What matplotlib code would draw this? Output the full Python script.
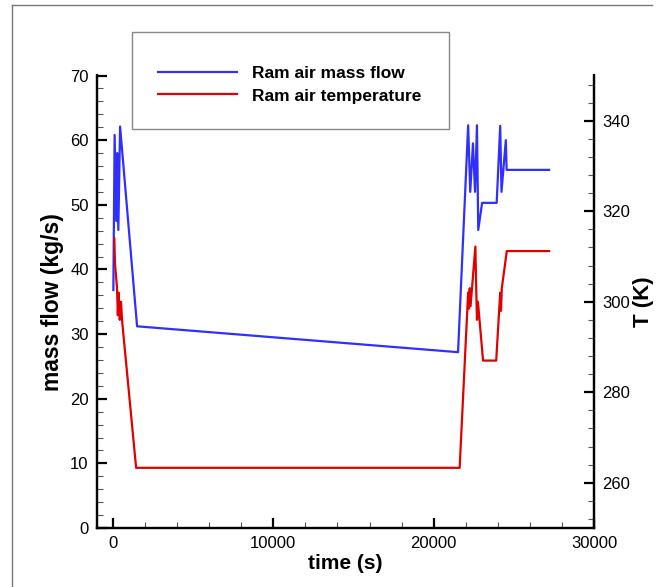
import matplotlib
matplotlib.use('Agg')
import matplotlib.pyplot as plt
from matplotlib.lines import Line2D
from matplotlib.patches import Rectangle
from matplotlib.ticker import MultipleLocator

plt.rcParams['font.family'] = ['Liberation Sans', 'DejaVu Sans']

# Ram air mass flow (kg/s) vs time (s)
flow_time = [20, 100, 200, 260, 330, 440, 1500,
             21520, 22150, 22280, 22450, 22580, 22700, 22780, 23020, 23930,
             24150, 24230, 24500, 24550, 27200]
flow_value = [36.8, 60.8, 47.5, 58.0, 46.1, 62.1, 31.2,
              27.2, 62.3, 52.0, 59.5, 52.0, 62.3, 46.1, 50.3, 50.3,
              62.2, 52.0, 60.0, 55.4, 55.4]

# Ram air temperature (K) vs time (s)
temp_time = [80, 120, 250, 300, 350, 420, 500, 560, 1440,
             21620, 22150, 22200, 22250, 22300, 22600, 22660, 22700, 22760,
             23080, 23900, 24150, 24200, 24250, 24560, 27200]
temp_value = [314.0, 308.5, 303.0, 297.0, 302.0, 296.0, 300.0, 296.0, 263.3,
              263.3, 302.0, 298.5, 303.0, 299.0, 312.2, 302.0, 296.0, 300.0,
              287.0, 287.0, 302.0, 298.0, 303.0, 311.2, 311.2]

blue = '#2f2fff'
red = '#e00000'

fig = plt.figure(figsize=(6.61, 5.87), dpi=100)
ax = fig.add_axes([97 / 661, 59 / 587, 497 / 661, 452.5 / 587])
ax2 = ax.twinx()

ax.plot(flow_time, flow_value, color=blue, lw=1.6, label='Ram air mass flow')
ax2.plot(temp_time, temp_value, color=red, lw=1.6, label='Ram air temperature')

ax.set_xlim(-1000, 30000)
ax.set_ylim(0, 70)
ax2.set_ylim(250, 350)

ax.xaxis.set_major_locator(MultipleLocator(10000))
ax.xaxis.set_minor_locator(MultipleLocator(2000))
ax.yaxis.set_major_locator(MultipleLocator(10))
ax.yaxis.set_minor_locator(MultipleLocator(2))
ax2.yaxis.set_major_locator(MultipleLocator(20))
ax2.yaxis.set_minor_locator(MultipleLocator(4))

for a in (ax, ax2):
    a.spines['top'].set_visible(False)
    for s in ('left', 'right', 'bottom'):
        a.spines[s].set_linewidth(1.6)
    a.tick_params(which='major', direction='in', length=7.5, width=1.6,
                  labelsize=12, pad=6)
    a.tick_params(which='minor', direction='in', length=4.5, width=0.8,
                  color='#555555')
ax.tick_params(axis='y', which='both', right=False)
ax2.tick_params(axis='y', which='both', left=False)

ax.set_xlabel('time (s)', fontsize=15, fontweight='bold', labelpad=2)
ax.set_ylabel('mass flow (kg/s)', fontsize=16.5, fontweight='bold', labelpad=4)
ax2.set_ylabel('T (K)', fontsize=16, fontweight='bold', labelpad=2)

# legend box
fig.patches.append(Rectangle((132 / 661, 1 - 129 / 587), 317 / 661, 97 / 587,
                             transform=fig.transFigure, fill=False,
                             edgecolor='#888888', lw=1.0))
handles = ax.get_lines() + ax2.get_lines()
fig.legend(handles, [h.get_label() for h in handles], loc='center left',
           bbox_to_anchor=(158 / 661, 1 - 84.5 / 587), frameon=False,
           prop={'weight': 'bold', 'size': 12.5}, handlelength=4.55,
           handletextpad=0.86, labelspacing=0.45, borderpad=0, borderaxespad=0)

# page frame
fig.add_artist(Line2D([12 / 661, 652 / 661], [1 - 5 / 587, 1 - 5 / 587],
                      transform=fig.transFigure, color='#777777', lw=1.0))
fig.add_artist(Line2D([12 / 661, 12 / 661], [0, 1 - 5 / 587],
                      transform=fig.transFigure, color='#777777', lw=1.0))

fig.savefig('out.png', dpi=100)
